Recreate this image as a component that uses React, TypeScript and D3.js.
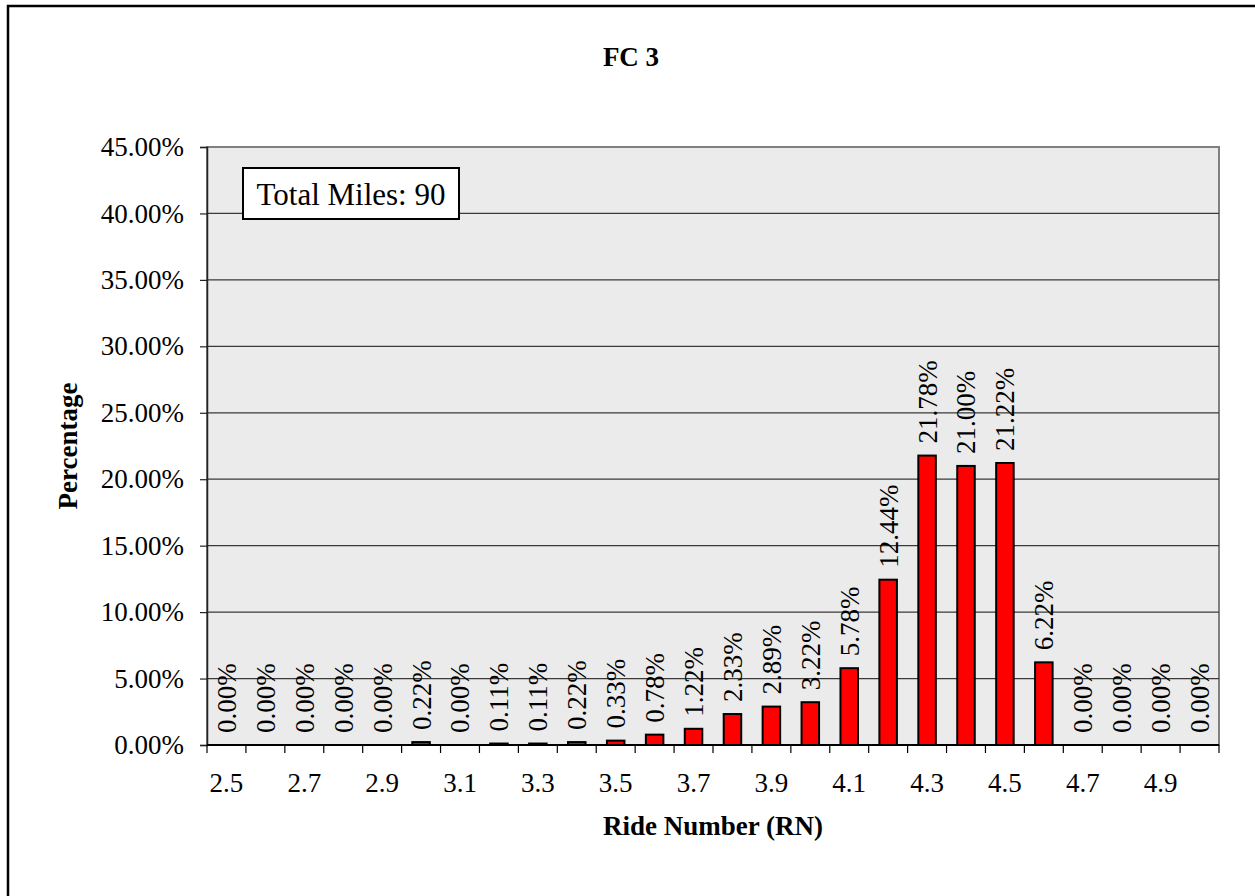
import React, { useEffect, useRef } from 'react';
import * as d3 from 'd3';

const categories = [
  '2.5', '2.6', '2.7', '2.8', '2.9', '3.0', '3.1', '3.2', '3.3', '3.4', '3.5', '3.6', '3.7',
  '3.8', '3.9', '4.0', '4.1', '4.2', '4.3', '4.4', '4.5', '4.6', '4.7', '4.8', '4.9', '5.0',
];
const percents = [
  0, 0, 0, 0, 0, 0.22, 0, 0.11, 0.11, 0.22, 0.33, 0.78, 1.22,
  2.33, 2.89, 3.22, 5.78, 12.44, 21.78, 21.0, 21.22, 6.22, 0, 0, 0, 0,
];
const yTicks = [0, 5, 10, 15, 20, 25, 30, 35, 40, 45];
const shownLabels = ['2.5', '2.7', '2.9', '3.1', '3.3', '3.5', '3.7', '3.9', '4.1', '4.3', '4.5', '4.7', '4.9'];

const FONT = '"Liberation Serif", "Times New Roman", serif';

const App = () => {
  const svgRef = useRef<SVGSVGElement>(null);

  useEffect(() => {
    const svg = d3.select(svgRef.current);
    svg.selectAll('*').remove();

    const left = 207;
    const right = 1219;
    const top = 147;
    const bottom = 745;

    const x = d3.scaleBand().domain(categories).range([left, right]).padding(0);
    const y = d3.scaleLinear().domain([0, 45]).range([bottom, top]);
    const barW = x.bandwidth() * 0.45;

    // outer frame
    svg.append('rect')
      .attr('x', 8).attr('y', 6).attr('width', 1300).attr('height', 1000)
      .attr('fill', 'white').attr('stroke', 'black').attr('stroke-width', 2.5);

    // plot area
    svg.append('rect')
      .attr('x', left).attr('y', top).attr('width', right - left).attr('height', bottom - top)
      .attr('fill', '#ebebeb').attr('stroke', '#808080').attr('stroke-width', 2);

    // gridlines
    svg.append('g')
      .selectAll('line')
      .data(yTicks.filter((t) => t > 0 && t < 45))
      .join('line')
      .attr('x1', left).attr('x2', right)
      .attr('y1', (d) => y(d)).attr('y2', (d) => y(d))
      .attr('stroke', '#3a3a3a').attr('stroke-width', 1.2);

    // y axis
    const yAxis = svg.append('g')
      .attr('transform', `translate(${left},0)`)
      .call(d3.axisLeft(y).tickValues(yTicks).tickSize(7).tickPadding(16).tickFormat((d) => `${(+d).toFixed(2)}%`));
    yAxis.select('.domain').attr('stroke', '#222').attr('stroke-width', 1.5);
    yAxis.selectAll('.tick line').attr('stroke', '#222').attr('stroke-width', 1.2);
    yAxis.selectAll('text').attr('font-family', FONT).attr('font-size', 27).attr('fill', 'black');

    // x axis ticks at category boundaries
    const xAxis = svg.append('g').attr('transform', `translate(0,${bottom})`);
    xAxis.append('line').attr('x1', left).attr('x2', right).attr('stroke', 'black').attr('stroke-width', 2);
    xAxis.selectAll('line.tk')
      .data(categories.concat(['end']))
      .join('line')
      .attr('class', 'tk')
      .attr('x1', (d, i) => left + i * x.step()).attr('x2', (d, i) => left + i * x.step())
      .attr('y1', 0).attr('y2', 8)
      .attr('stroke', 'black').attr('stroke-width', 1.2);
    xAxis.selectAll('text')
      .data(shownLabels)
      .join('text')
      .attr('x', (d) => (x(d) as number) + x.bandwidth() / 2)
      .attr('y', 47)
      .attr('text-anchor', 'middle')
      .attr('font-family', FONT).attr('font-size', 27)
      .text((d) => d);

    // bars
    svg.append('g')
      .selectAll('rect')
      .data(percents)
      .join('rect')
      .attr('x', (d, i) => (x(categories[i]) as number) + (x.bandwidth() - barW) / 2)
      .attr('y', (d) => y(d))
      .attr('width', barW)
      .attr('height', (d) => bottom - y(d))
      .attr('fill', '#ff0000')
      .attr('stroke', 'black')
      .attr('stroke-width', 2);

    // data labels
    svg.append('g')
      .selectAll('text')
      .data(percents)
      .join('text')
      .attr('transform', (d, i) => `translate(${(x(categories[i]) as number) + x.bandwidth() / 2},${y(d) - 12}) rotate(-90)`)
      .attr('dy', '0.35em')
      .attr('font-family', FONT).attr('font-size', 27)
      .text((d) => `${d.toFixed(2)}%`);

    // total miles box
    svg.append('rect')
      .attr('x', 243).attr('y', 168).attr('width', 216).attr('height', 51)
      .attr('fill', 'white').attr('stroke', 'black').attr('stroke-width', 2);
    svg.append('text')
      .attr('x', 351).attr('y', 205).attr('text-anchor', 'middle')
      .attr('font-family', FONT).attr('font-size', 31)
      .text('Total Miles: 90');

    // titles
    svg.append('text')
      .attr('x', 631).attr('y', 66).attr('text-anchor', 'middle')
      .attr('font-family', FONT).attr('font-size', 27).attr('font-weight', 'bold')
      .text('FC 3');
    svg.append('text')
      .attr('x', (left + right) / 2).attr('y', 835).attr('text-anchor', 'middle')
      .attr('font-family', FONT).attr('font-size', 27).attr('font-weight', 'bold')
      .text('Ride Number (RN)');
    svg.append('text')
      .attr('transform', `translate(77,${(top + bottom) / 2}) rotate(-90)`)
      .attr('text-anchor', 'middle')
      .attr('font-family', FONT).attr('font-size', 27).attr('font-weight', 'bold')
      .text('Percentage');
  }, []);

  return (
    <svg
      ref={svgRef}
      width={1255}
      height={896}
      style={{ position: 'absolute', left: 0, top: 0, background: 'white' }}
    ></svg>
  );
};

export default App;
